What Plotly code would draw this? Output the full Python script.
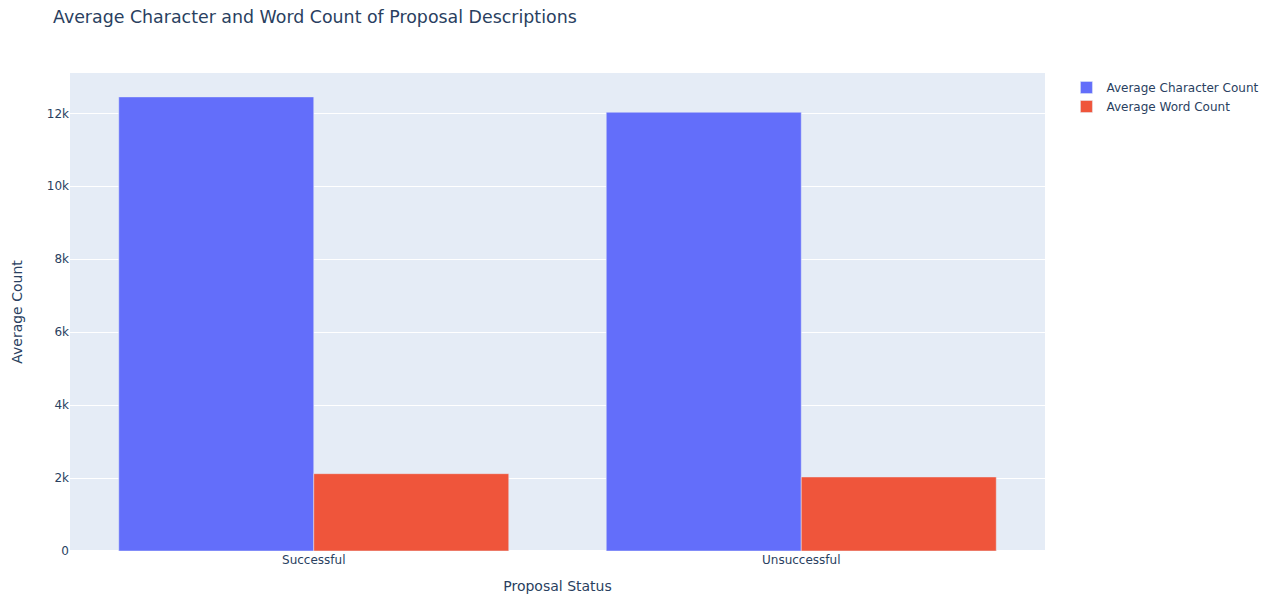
import plotly.graph_objects as go

# Proposal outcome groups and their average description lengths
statuses = ["Successful", "Unsuccessful"]
avg_char_count = [12450, 12030]
avg_word_count = [2120, 2030]

fig = go.Figure()
fig.add_trace(go.Bar(x=statuses, y=avg_char_count, name="Average Character Count"))
fig.add_trace(go.Bar(x=statuses, y=avg_word_count, name="Average Word Count"))

fig.update_layout(
    template="plotly",
    barmode="group",
    width=1274,
    height=596,
    font=dict(family="Verdana, DejaVu Sans, sans-serif"),
    margin=dict(l=70, r=229, t=73, b=45, autoexpand=False),
    title=dict(
        text="Average Character and Word Count of Proposal Descriptions",
        font=dict(size=17.4),
        x=53 / 1274, xanchor="left", xref="container",
        y=1 - 17 / 596, yanchor="middle", yref="container",
    ),
    legend=dict(x=1.022),
    xaxis=dict(title=dict(text="Proposal Status"), automargin=False),
    yaxis=dict(title=dict(text="Average Count", standoff=20), automargin=False),
)

fig.write_html("out.html")
